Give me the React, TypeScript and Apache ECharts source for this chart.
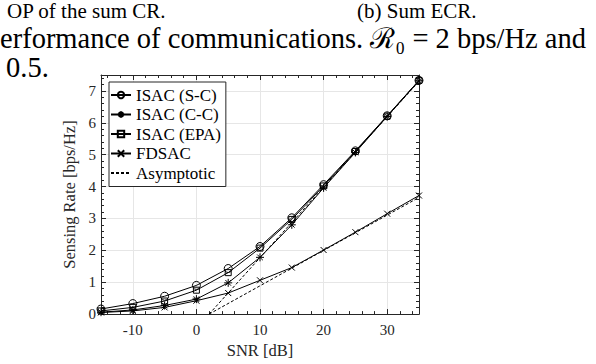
import React, { useEffect, useRef } from "react";
import * as echarts from "echarts";

const snr = [-15, -10, -5, 0, 5, 10, 15, 20, 25, 30, 35];
const isacSC = [0.16, 0.33, 0.56, 0.9, 1.43, 2.12, 3.02, 4.06, 5.12, 6.22, 7.33];
const isacCC = [0.06, 0.13, 0.27, 0.47, 0.98, 1.78, 2.8, 3.96, 5.07, 6.2, 7.32];
const isacEPA = [0.1, 0.21, 0.41, 0.75, 1.3, 2.07, 2.97, 4.02, 5.1, 6.21, 7.33];
const fdsac = [0.05, 0.1, 0.21, 0.42, 0.66, 1.06, 1.46, 2.01, 2.57, 3.15, 3.72];
const asymSnr = [2, 35];
const asymIsac = [0, 7.3];
const asymFdsac = [0, 3.66];
const seriesNames = ["ISAC (S-C)", "ISAC (C-C)", "ISAC (EPA)", "FDSAC", "Asymptotic"];
const captionTop = ["OP of the sum CR.", "(b) Sum ECR."];
const captionBody = ["erformance of communications. ℛ₀ = 2 bps/Hz and", "0.5."];

const FONT = "Liberation Serif, Times New Roman, serif";
const AX = "#262626";
const GRID = "#e6e6e6";

const ASTERISK = "path://M5,0L5,10M0,5L10,5M1.5,1.5L8.5,8.5M8.5,1.5L1.5,8.5";
const XMARK = "path://M0,0L10,10M10,0L0,10";

const pair = (xs: number[], ys: number[]) => xs.map((x, i) => [x, ys[i]]);

export default function App() {
  const ref = useRef<HTMLDivElement>(null);
  useEffect(() => {
    document.body.style.margin = "0";
    if (!ref.current) return;
    const chart = echarts.init(ref.current, undefined, { renderer: "svg" });
    const markerStyle = { color: "none", borderColor: "#000", borderWidth: 1 };
    const lineSeries = (name: string, ys: number[], symbol: string, size: number) => ({
      name,
      type: "line",
      data: pair(snr, ys),
      symbol,
      symbolSize: size,
      showAllSymbol: true,
      lineStyle: { color: "#000", width: 1 },
      itemStyle: markerStyle,
      emphasis: { disabled: true },
      z: 3,
    });
    const axisCommon = {
      axisLine: { show: true, onZero: false, lineStyle: { color: AX, width: 1 } },
      axisTick: { show: true, inside: true, length: 5, lineStyle: { color: AX } },
      minorTick: { show: true, splitNumber: 5, length: 3, lineStyle: { color: AX } },
    };
    const caption = (left: number, top: number, text: string, size: number, lh: number) => ({
      text,
      left,
      top,
      padding: 0,
      itemGap: 0,
      textStyle: { fontFamily: FONT, fontSize: size, fontWeight: "normal", color: "#000", lineHeight: lh },
    });
    chart.setOption({
      animation: false,
      backgroundColor: "#fff",
      title: [
        caption(7, 0, captionTop[0], 21, 22),
        caption(357, 0, captionTop[1], 21, 22),
        caption(0, 24.5, captionBody[0], 28.5, 28),
        caption(6, 53.5, captionBody[1], 28.5, 28),
      ],
      grid: { left: 101, right: 177, top: 75, bottom: 47, containLabel: false },
      legend: {
        orient: "vertical",
        left: 109,
        top: 82,
        backgroundColor: "#fff",
        borderColor: AX,
        borderWidth: 1,
        borderRadius: 0,
        padding: [4.5, 5, 5, 1],
        itemGap: 2.5,
        itemWidth: 20,
        itemHeight: 8,
        textStyle: { fontFamily: FONT, fontSize: 17, color: "#000", lineHeight: 17 },
        data: [
          ...seriesNames.slice(0, 4),
          { name: seriesNames[4], itemStyle: { color: "rgba(0,0,0,0)", borderWidth: 0, opacity: 0 } },
        ],
        z: 10,
      },
      xAxis: [
        {
          type: "value",
          min: -15,
          max: 35,
          splitNumber: 5,
          ...axisCommon,
          axisLabel: {
            color: AX,
            fontFamily: FONT,
            fontSize: 15,
            margin: 8,
            formatter: (v: number) => (v % 10 === 0 ? String(v) : ""),
          },
          splitLine: { show: true, lineStyle: { color: GRID, width: 1 } },
          name: "SNR [dB]",
          nameLocation: "middle",
          nameGap: 22,
          nameTextStyle: { color: AX, fontFamily: FONT, fontSize: 16.5 },
        },
        {
          type: "value",
          position: "top",
          min: -15,
          max: 35,
          splitNumber: 5,
          ...axisCommon,
          axisLabel: { show: false },
          splitLine: { show: false },
        },
      ],
      yAxis: [
        {
          type: "value",
          min: 0,
          max: 7.5,
          interval: 1,
          ...axisCommon,
          axisLabel: {
            color: AX,
            fontFamily: FONT,
            fontSize: 15,
            margin: 5,
            formatter: (v: number) => (Number.isInteger(v) ? String(v) : ""),
          },
          splitLine: { show: true, lineStyle: { color: GRID, width: 1 } },
          name: "Sensing Rate [bps/Hz]",
          nameLocation: "middle",
          nameGap: 13,
          nameTextStyle: { color: AX, fontFamily: FONT, fontSize: 16.5 },
        },
        {
          type: "value",
          position: "right",
          min: 0,
          max: 7.5,
          interval: 1,
          ...axisCommon,
          axisLabel: { show: false },
          splitLine: { show: false },
        },
      ],
      series: [
        lineSeries(seriesNames[0], isacSC, "circle", 8),
        lineSeries(seriesNames[1], isacCC, ASTERISK, 8),
        lineSeries(seriesNames[2], isacEPA, "rect", 6),
        lineSeries(seriesNames[3], fdsac, XMARK, 6),
        {
          name: seriesNames[4],
          type: "line",
          data: pair(asymSnr, asymIsac),
          symbol: "none",
          lineStyle: { color: "#000", width: 1, type: [3, 2] },
          itemStyle: { color: "#000" },
          z: 2,
        },
        {
          name: seriesNames[4],
          type: "line",
          data: pair(asymSnr, asymFdsac),
          symbol: "none",
          lineStyle: { color: "#000", width: 1, type: [3, 2] },
          itemStyle: { color: "#000" },
          z: 2,
        },
      ],
    });
    return () => chart.dispose();
  }, []);
  return <div ref={ref} style={{ width: 596, height: 364 }} />;
}
